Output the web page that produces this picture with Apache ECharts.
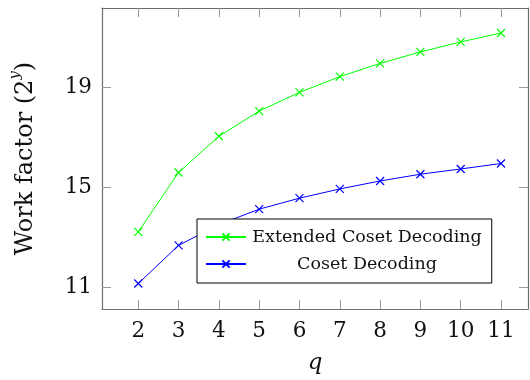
<!DOCTYPE html>
<html><head><meta charset="utf-8">
<script src="https://cdn.jsdelivr.net/npm/echarts@6/dist/echarts.min.js"></script>
<style>html,body{margin:0;padding:0;background:#fff}#c{width:530px;height:380px}</style>
</head><body><div id="c"></div>
<script>
const qValues = [2, 3, 4, 5, 6, 7, 8, 9, 10, 11];
const extendedCoset = [13.21, 15.59, 17.04, 18.05, 18.80, 19.43, 19.96, 20.42, 20.82, 21.18];
const coset = [11.14, 12.67, 13.50, 14.12, 14.56, 14.93, 15.25, 15.52, 15.73, 15.95];
const xTicks = [2, 3, 4, 5, 6, 7, 8, 9, 10, 11];
const yTicks = [11, 15, 19];
const seriesNames = ['Extended Coset Decoding', 'Coset Decoding'];

const font = 'DejaVu Serif';
const xSym = 'path://M0,0L10,10M10,0L0,10';
const axisGray = '#6e6e6e';
const tickGray = '#9a9a9a';

function pairs(ys) { return qValues.map((q, i) => [q, ys[i]]); }

const chart = echarts.init(document.getElementById('c'), null, {renderer: 'canvas'});
const xBase = {type: 'value', min: 1.1, max: 11.67, splitLine: {show: false},
  axisLine: {show: true, onZero: false, lineStyle: {color: axisGray, width: 1.2}},
  axisTick: {show: true, inside: true, length: 9, customValues: xTicks, lineStyle: {color: tickGray}}};
const yBase = {type: 'value', min: 10.12, max: 22.18, splitLine: {show: false},
  axisLine: {show: true, onZero: false, lineStyle: {color: axisGray, width: 1.2}},
  axisTick: {show: true, inside: true, length: 9, customValues: yTicks, lineStyle: {color: tickGray}}};

chart.setOption({
  animation: false,
  backgroundColor: '#fff',
  grid: {left: 101, right: 2, top: 8, bottom: 71, containLabel: false},
  xAxis: [
    Object.assign({}, xBase, {position: 'bottom',
      axisLabel: {show: true, customValues: xTicks, fontFamily: font, fontSize: 21.5, color: '#111', margin: 11},
      name: 'q', nameLocation: 'middle', nameGap: 43,
      nameTextStyle: {fontFamily: font, fontStyle: 'italic', fontSize: 23, color: '#111'}}),
    Object.assign({}, xBase, {position: 'top', axisLabel: {show: false}})
  ],
  yAxis: [
    Object.assign({}, yBase, {position: 'left',
      axisLabel: {show: true, customValues: yTicks, fontFamily: font, fontSize: 21.5, color: '#111', margin: 10},
      name: '{a|Work factor (2}{s|y}{a|)}', nameLocation: 'middle', nameGap: 64, nameRotate: 90,
      nameTextStyle: {rich: {
        a: {fontFamily: font, fontSize: 24, color: '#111', lineHeight: 30, verticalAlign: 'bottom'},
        s: {fontFamily: font, fontSize: 15, fontStyle: 'italic', color: '#111', lineHeight: 30, verticalAlign: 'top'}
      }}}),
    Object.assign({}, yBase, {position: 'right', axisLabel: {show: false}})
  ],
  legend: {
    orient: 'vertical', left: 197, top: 219,
    backgroundColor: '#fff', borderColor: '#000', borderWidth: 1,
    padding: [9, 10, 10, 8], itemGap: 9, itemWidth: 40, itemHeight: 9,
    data: seriesNames,
    formatter: name => '{t|' + name + '}',
    textStyle: {rich: {t: {fontFamily: font, fontSize: 17.5, color: '#111', width: 232, align: 'center'}}}
  },
  series: [
    {name: seriesNames[0], type: 'line', data: pairs(extendedCoset),
     symbol: xSym, symbolSize: 8,
     lineStyle: {color: '#00ff00', width: 1},
     itemStyle: {color: '#00ff00', borderColor: '#00ff00', borderWidth: 1.2}},
    {name: seriesNames[1], type: 'line', data: pairs(coset),
     symbol: xSym, symbolSize: 8,
     lineStyle: {color: '#0000ff', width: 1},
     itemStyle: {color: '#0000ff', borderColor: '#0000ff', borderWidth: 1.2}}
  ]
});
</script></body></html>
